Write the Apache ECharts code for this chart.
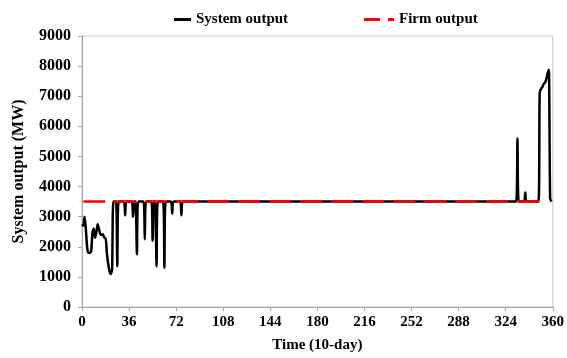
<!DOCTYPE html>
<html>
<head>
<meta charset="utf-8">
<script src="https://cdn.jsdelivr.net/npm/echarts@6/dist/echarts.min.js"></script>
<style>
  html, body { margin: 0; padding: 0; background: #fff; }
  #chart { width: 567px; height: 358px; }
</style>
</head>
<body>
<div id="chart"></div>
<script>
// 数据
var systemDays = [0, 1, 2, 3, 4, 5, 6, 7, 8, 9, 10, 11, 12, 13, 14, 15, 16, 17, 18, 19, 20, 21, 22, 23, 24,
  26, 27, 28, 32, 33, 34, 38, 39, 40, 41, 42, 43, 47, 48, 49, 53, 54, 55, 56, 57, 58, 62, 63, 64,
  68, 69, 70, 75, 76, 77, 332, 333, 334, 338, 339, 340,
  349, 350, 351, 352, 353, 354, 355, 356, 357, 358, 359];
var systemMW = [2750, 2700, 3000, 2550, 1950, 1800, 1800, 1850, 2450, 2600, 2300, 2500, 2750, 2580, 2420, 2400, 2420, 2300, 2300, 1800, 1450, 1200, 1100, 1250, 3500,
  3500, 1350, 3500, 3500, 3050, 3500, 3500, 3000, 3500, 3500, 1750, 3500, 3500, 2250, 3500, 3500, 2200, 3500, 3500, 1350, 3500, 3500, 1300, 3500,
  3500, 3100, 3500, 3500, 3050, 3500, 3500, 5600, 3500, 3500, 3800, 3500,
  3500, 7100, 7250, 7300, 7400, 7450, 7550, 7750, 7880, 3600, 3500];
var firmDays = [1, 356];
var firmMW = [3500, 3500];
var xTicks = [0, 36, 72, 108, 144, 180, 216, 252, 288, 324, 360];

var font = 'Liberation Serif';
var chartDom = document.getElementById('chart');
var myChart = echarts.init(chartDom);

function pairs(xs, ys) {
  return xs.map(function (x, i) { return [x, ys[i]]; });
}

var legendText = { fontFamily: font, fontWeight: 'bold', fontSize: 15, color: '#000' };

var option = {
  animation: false,
  legend: [
    {
      data: [{ name: 'System output', icon: 'path://M0,0h17v3h-17z' }],
      left: 169, top: 7,
      itemWidth: 17, itemHeight: 3,
      textStyle: legendText
    },
    {
      data: [{ name: 'Firm output', icon: 'path://M0,0h16v3h-16z M24,0h6v3h-6z' }],
      left: 359, top: 7,
      itemWidth: 30, itemHeight: 3,
      textStyle: legendText
    }
  ],
  grid: {
    left: 82, right: 12, top: 36, bottom: 51,
    show: true, borderColor: '#c8c8c8', borderWidth: 1
  },
  xAxis: {
    type: 'value',
    min: 0, max: 360, interval: 36,
    name: 'Time (10-day)',
    nameLocation: 'middle', nameGap: 31,
    nameTextStyle: { fontFamily: font, fontWeight: 'bold', fontSize: 15, color: '#000' },
    axisLine: { lineStyle: { color: '#a6a6a6' } },
    axisTick: { length: 4, lineStyle: { color: '#a6a6a6' } },
    axisLabel: {
      margin: 8, fontFamily: font, fontWeight: 'bold', fontSize: 15, color: '#000',
      customValues: xTicks
    },
    splitLine: { show: false }
  },
  yAxis: {
    type: 'value',
    min: 0, max: 9000, interval: 1000,
    name: 'System output (MW)',
    nameLocation: 'middle', nameGap: 55,
    nameTextStyle: { fontFamily: font, fontWeight: 'bold', fontSize: 16, color: '#000' },
    axisLine: { show: true, lineStyle: { color: '#a6a6a6' } },
    axisTick: { show: true, length: 4, lineStyle: { color: '#a6a6a6' } },
    axisLabel: {
      margin: 11, fontFamily: font, fontWeight: 'bold', fontSize: 16, color: '#000',
      formatter: function (v) { return String(v); }
    },
    splitLine: { show: false }
  },
  series: [
    {
      name: 'System output',
      type: 'line',
      data: pairs(systemDays, systemMW),
      symbol: 'none',
      smooth: 0.25,
      lineStyle: { color: '#000', width: 2.5 },
      itemStyle: { color: '#000' },
      z: 2
    },
    {
      name: 'Firm output',
      type: 'line',
      data: pairs(firmDays, firmMW),
      symbol: 'none',
      lineStyle: { color: '#ff0000', width: 2.5, type: [22, 9] },
      itemStyle: { color: '#ff0000' },
      z: 3
    }
  ]
};

myChart.setOption(option);
</script>
</body>
</html>
